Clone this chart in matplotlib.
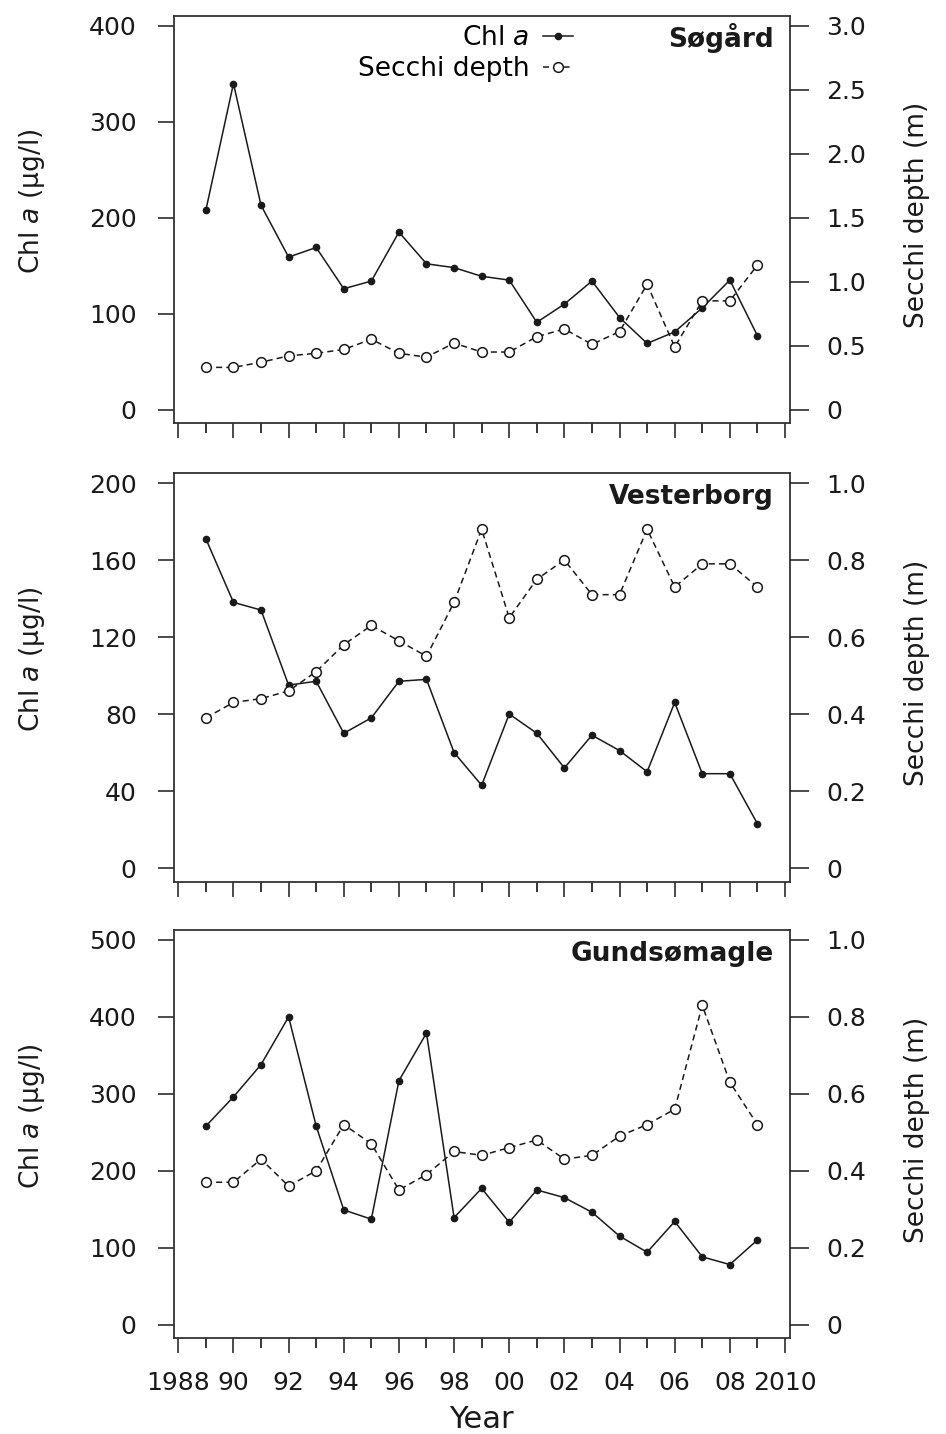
import numpy as np
import matplotlib
matplotlib.use("Agg")
import matplotlib.pyplot as plt

# data
years = list(range(1989, 2010))

lakes = ["Søgård", "Vesterborg", "Gundsømagle"]

sogard_chl = [208, 340, 213, 159, 169, 126, 134, 185, 152, 148, 139,
              135, 91, 110, 134, 96, 69, 81, 106, 135, 77]
sogard_secchi = [0.33, 0.33, 0.37, 0.42, 0.44, 0.47, 0.55, 0.44, 0.41, 0.52, 0.45,
                 0.45, 0.57, 0.63, 0.51, 0.61, 0.98, 0.49, 0.85, 0.85, 1.13]

vesterborg_chl = [171, 138, 134, 95, 97, 70, 78, 97, 98, 60, 43,
                  80, 70, 52, 69, 61, 50, 86, 49, 49, 23]
vesterborg_secchi = [0.39, 0.43, 0.44, 0.46, 0.51, 0.58, 0.63, 0.59, 0.55, 0.69, 0.88,
                     0.65, 0.75, 0.80, 0.71, 0.71, 0.88, 0.73, 0.79, 0.79, 0.73]

gundsomagle_chl = [258, 296, 338, 400, 258, 149, 137, 317, 379, 139, 177,
                   133, 175, 165, 146, 115, 94, 134, 88, 78, 110]
gundsomagle_secchi = [0.37, 0.37, 0.43, 0.36, 0.40, 0.52, 0.47, 0.35, 0.39, 0.45, 0.44,
                      0.46, 0.48, 0.43, 0.44, 0.49, 0.52, 0.56, 0.83, 0.63, 0.52]

chl_series = [sogard_chl, vesterborg_chl, gundsomagle_chl]
secchi_series = [sogard_secchi, vesterborg_secchi, gundsomagle_secchi]

chl_ticks = [[0, 100, 200, 300, 400],
             [0, 40, 80, 120, 160, 200],
             [0, 100, 200, 300, 400, 500]]
secchi_ticks = [[0, 0.5, 1.0, 1.5, 2.0, 2.5, 3.0],
                [0, 0.2, 0.4, 0.6, 0.8, 1.0],
                [0, 0.2, 0.4, 0.6, 0.8, 1.0]]

year_ticks = list(range(1988, 2011, 2))
year_labels = ["1988", "90", "92", "94", "96", "98", "00", "02", "04", "06", "08", "2010"]

plt.rcParams['font.family'] = ['DejaVu Sans']
plt.rcParams['mathtext.fontset'] = 'dejavusans'

W, H = 946, 1434
ink = '#1a1a1a'
fig = plt.figure(figsize=(W / 100, H / 100), dpi=100)

# panel boxes in pixels (top, bottom), shared left/right
boxes = [(16, 423), (473, 881.5), (930, 1338)]
left_px, right_px = 173.5, 789.5
pw = right_px - left_px

# fraction of the box below the zero tick and above the top tick
low_frac, high_frac = 0.033, 0.0245


def padded(top):
    total = top / (1 - low_frac - high_frac)
    return -low_frac * total, top + high_frac * total


def fmt_secchi(v):
    return "0" if v == 0 else f"{v:.1f}"


for i, name in enumerate(lakes):
    top, bot = boxes[i]
    ph = bot - top
    ax = fig.add_axes([left_px / W, 1 - bot / H, pw / W, ph / H])
    ax2 = ax.twinx()

    l1, = ax.plot(years, chl_series[i], '-', color=ink, lw=1.1, marker='o', ms=4.5,
                  mfc=ink, mec=ink, zorder=3)
    l2, = ax2.plot(years, secchi_series[i], color=ink, lw=1.1, ls=(0, (4, 2.7)),
                   marker='o', ms=7, mfc='white', mec=ink, mew=1.1, zorder=3)

    ax.set_xlim(1987.826, 2010.163)
    ax.set_ylim(*padded(chl_ticks[i][-1]))
    ax2.set_ylim(*padded(secchi_ticks[i][-1]))

    ax.set_yticks(chl_ticks[i])
    ax.set_yticklabels([str(v) for v in chl_ticks[i]])
    ax2.set_yticks(secchi_ticks[i])
    ax2.set_yticklabels([fmt_secchi(v) for v in secchi_ticks[i]])

    ax.set_xticks(year_ticks)
    ax.set_xticks(list(range(1989, 2010, 2)), minor=True)
    if i == 2:
        ax.set_xticklabels(year_labels)
    else:
        ax.set_xticklabels([])

    ax.tick_params(axis='x', which='major', direction='out', length=10.8, width=1.1,
                   pad=12.6, labelsize=18, colors=ink)
    ax.tick_params(axis='x', which='minor', direction='out', length=7.2, width=1.1)
    ax.tick_params(axis='y', direction='out', length=11.5, width=1.1, pad=15,
                   labelsize=18, colors=ink)
    ax2.tick_params(axis='y', direction='out', length=14, width=1.1, pad=12.4,
                    labelsize=18, colors=ink)

    for s in ax.spines.values():
        s.set_linewidth(1.3)
        s.set_color('#333333')
    for s in ax2.spines.values():
        s.set_visible(False)

    ax.set_ylabel("Chl $\\mathit{a}$ (µg/l)", fontsize=19, color=ink)
    ax.yaxis.set_label_coords(-0.205, 0.544)
    ax2.set_ylabel("Secchi depth (m)", fontsize=19, color=ink)
    ax2.yaxis.set_label_coords(1.186, 0.511)

    ax2.text(1 - 16 / pw, 1 - 31 / ph, name, transform=ax.transAxes, ha='right',
             va='baseline', fontsize=19, fontweight='bold', color=ink)

    if i == 0:
        ax2.legend([l1, l2], ["Chl $\\mathit{a}$", "Secchi depth"], markerfirst=False,
                   frameon=False, loc='upper right',
                   bbox_to_anchor=((573 - left_px) / pw, 1 - 9 / ph),
                   borderpad=0, borderaxespad=0, handlelength=1.15,
                   handletextpad=0.5, labelspacing=0.2, fontsize=19)

fig.text((left_px + pw / 2) / W, 1 - 1428 / H, "Year", ha='center', va='baseline',
         fontsize=22, color=ink)

fig.savefig("out.png", dpi=100)
